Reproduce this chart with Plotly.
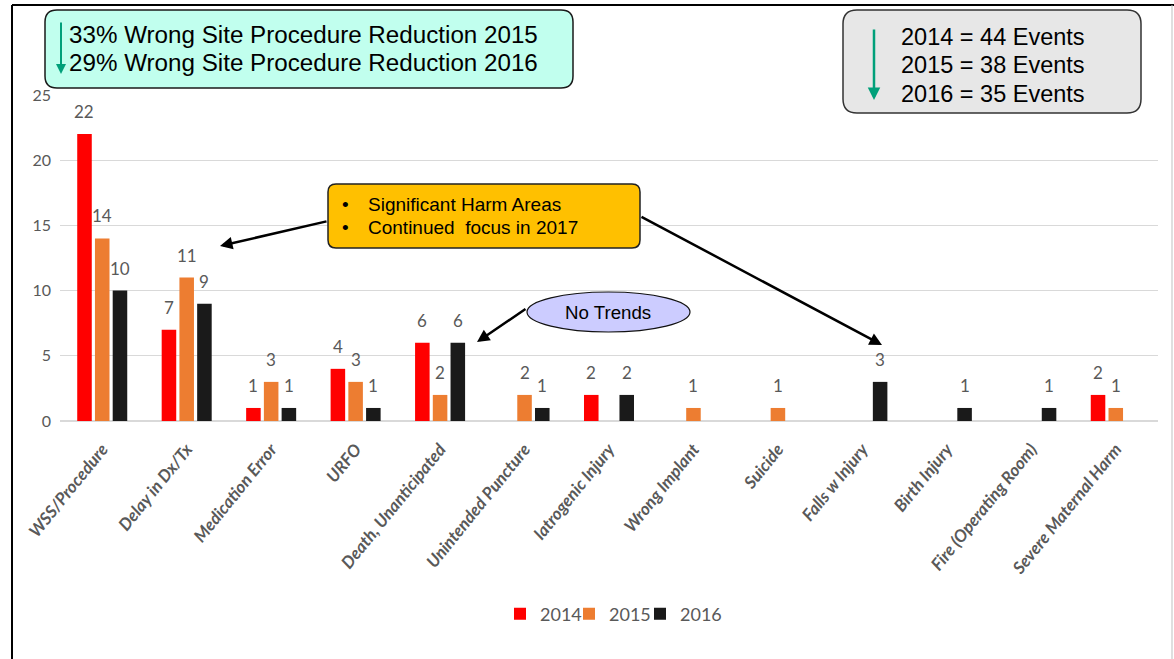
import plotly.graph_objects as go

categories = ["WSS/Procedure", "Delay in Dx/Tx", "Medication Error", "URFO",
              "Death, Unanticipated", "Unintended Puncture", "Iatrogenic Injury",
              "Wrong Implant", "Suicide", "Falls w Injury", "Birth Injury",
              "Fire (Operating Room)", "Severe Maternal Harm"]
years = ["2014", "2015", "2016"]
v2014 = [22, 7, 1, 4, 6, 0, 2, 0, 0, 0, 0, 0, 2]
v2015 = [14, 11, 3, 3, 2, 2, 0, 1, 1, 0, 0, 0, 1]
v2016 = [10, 9, 1, 1, 6, 1, 2, 0, 0, 3, 1, 1, 0]
series = [v2014, v2015, v2016]
colors = ["#FF0000", "#ED7D31", "#1A1A1A"]

box1_lines = ["33% Wrong Site Procedure Reduction 2015",
              "29% Wrong Site Procedure Reduction 2016"]
box2_lines = ["2014 = 44 Events", "2015 = 38 Events", "2016 = 35 Events"]
box3_lines = ["Significant Harm Areas", "Continued  focus in 2017"]
ellipse_text = "No Trends"

W, H = 1174, 659
L, R, T, B = 60, 1158, 95, 421  # plot area pixels

def X(px):
    return (px - L) / (R - L)

def Y(py):
    return (B - py) / (B - T)

TXT = "Lato, Carlito, 'Open Sans', sans-serif"
ARIAL = "Arial, 'Liberation Sans', sans-serif"
GRAY = "#595959"

legend_ids = ["legend", "legend2", "legend3"]
legend_left = [500, 569, 640]  # pixel x of each legend box

fig = go.Figure()
for name, vals, col, lg in zip(years, series, colors, legend_ids):
    fig.add_trace(go.Bar(
        x=categories, y=[v if v else None for v in vals], name=name,
        marker=dict(color=col, line=dict(width=0)), legend=lg,
    ))

BARGAP, GROUPGAP = 0.37, 0.18
slot = (R - L) / len(categories) * (1 - BARGAP) / 3

annotations = []
for i, vals in enumerate(series):
    for c, v in zip(categories, vals):
        if v:
            annotations.append(dict(
                x=c, y=v, xref="x", yref="y", text=str(v), showarrow=False,
                xshift=(i - 1) * slot, yshift=10, yanchor="bottom",
                font=dict(family=TXT, size=17, color=GRAY)))


def rrect(x0, y0, x1, y1, r):
    rx = r / (R - L)
    ry = r / (B - T)
    a0, a1, b0, b1 = X(x0), X(x1), Y(y1), Y(y0)  # b0 bottom, b1 top
    return (f"M {a0+rx},{b1} L {a1-rx},{b1} Q {a1},{b1} {a1},{b1-ry} "
            f"L {a1},{b0+ry} Q {a1},{b0} {a1-rx},{b0} L {a0+rx},{b0} "
            f"Q {a0},{b0} {a0},{b0+ry} L {a0},{b1-ry} Q {a0},{b1} {a0+rx},{b1} Z")

shapes = [
    # frame
    dict(type="line", xref="paper", yref="paper", x0=X(12), x1=X(12), y0=Y(5), y1=Y(H + 5),
         line=dict(color="#000000", width=2)),
    dict(type="line", xref="paper", yref="paper", x0=X(12), x1=X(W + 5), y0=Y(5), y1=Y(5),
         line=dict(color="#000000", width=2)),
    dict(type="line", xref="paper", yref="paper", x0=X(1172), x1=X(1172), y0=Y(5), y1=Y(H + 5),
         line=dict(color="#BFBFBF", width=1)),
    # boxes
    dict(type="path", xref="paper", yref="paper", path=rrect(45, 10, 573, 88, 12),
         fillcolor="#C1FFEE", line=dict(color="#1A1A1A", width=1.5)),
    dict(type="path", xref="paper", yref="paper", path=rrect(843, 10, 1141, 113, 14),
         fillcolor="#E7E7E7", line=dict(color="#333333", width=1.5)),
    dict(type="path", xref="paper", yref="paper", path=rrect(328, 184, 640, 248, 8),
         fillcolor="#FFC000", line=dict(color="#222222", width=1.5)),
    dict(type="circle", xref="paper", yref="paper", x0=X(527), x1=X(690), y0=Y(332), y1=Y(292),
         fillcolor="#CCCCFF", line=dict(color="#111111", width=1.2)),
]


def arrow(tail, tip, color="#000000", width=2.5):
    annotations.append(dict(
        xref="paper", yref="paper", x=X(tip[0]), y=Y(tip[1]), text="",
        showarrow=True, ax=tail[0] - tip[0], ay=tail[1] - tip[1],
        arrowcolor=color, arrowwidth=width, arrowhead=2, arrowsize=1, standoff=0))


def label(px, py, text, size, anchor="left"):
    annotations.append(dict(
        xref="paper", yref="paper", x=X(px), y=Y(py), text=text, showarrow=False,
        xanchor=anchor, yanchor="middle", font=dict(family=ARIAL, size=size, color="#000000")))

GREEN = "#00A07A"
arrow((61, 21), (61, 74), GREEN, 2)
arrow((874, 28), (874, 100), GREEN, 2.5)
arrow((328, 221), (220, 246))
arrow((640, 216), (882, 345))
arrow((527, 308), (477, 342))

for k, t in enumerate(box1_lines):
    label(67, 35 + 28 * k, t, 24.2)
for k, t in enumerate(box2_lines):
    label(899, 37 + 28.5 * k, t, 23.5)
for k, t in enumerate(box3_lines):
    label(340, 204 + 23 * k, "•", 19)
    label(366, 204 + 23 * k, t, 19)
label(608, 312, ellipse_text, 18.7, "center")

legend_common = dict(orientation="h", yanchor="middle", y=Y(614), xanchor="left",
                     font=dict(family=TXT, size=18, color=GRAY), itemwidth=30,
                     bgcolor="rgba(0,0,0,0)")
legends = {lg: dict(legend_common, x=X(px)) for lg, px in zip(legend_ids, legend_left)}

fig.update_layout(
    width=W, height=H,
    margin=dict(l=L, r=W - R, t=T, b=H - B, pad=0),
    paper_bgcolor="white", plot_bgcolor="white",
    barmode="group", bargap=BARGAP, bargroupgap=GROUPGAP,
    showlegend=True,
    shapes=shapes, annotations=annotations,
    xaxis=dict(tickangle=-51, showgrid=False, showline=False, ticks="", ticklabelstandoff=14,
               tickfont=dict(family=TXT, size=17, color=GRAY, weight="bold", style="italic")),
    yaxis=dict(range=[0, 25], dtick=5, showgrid=True, gridcolor="#D9D9D9", gridwidth=1,
               zeroline=True, zerolinecolor="#D9D9D9", zerolinewidth=1.5, showline=False,
               ticks="", ticklabelstandoff=8,
               tickfont=dict(family=TXT, size=16, color=GRAY)),
    **legends,
)

fig.write_html("out.html", config={"displayModeBar": False},
               post_script="document.body.style.margin='0';")
